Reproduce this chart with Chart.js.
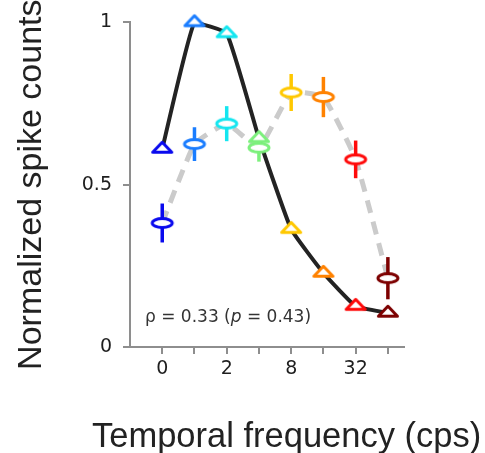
<!DOCTYPE html>
<html>
<head>
<meta charset="utf-8">
<script src="https://cdn.jsdelivr.net/npm/chart.js@4"></script>
<style>
  html, body { margin: 0; padding: 0; background: #fff; }
  #wrap { width: 485px; height: 453px; position: relative; }
</style>
</head>
<body>
<div id="wrap"><canvas id="chart"></canvas></div>
<script>
// Temporal frequency steps (cps), one category per position on the x axis
const frequencies = ['0', '1', '2', '4', '8', '16', '32', '64'];
const xTickLabels = ['0', '', '2', '', '8', '', '32', ''];
const yTicks = [0, 0.5, 1];

// Normalized responses: population tuning curve (triangles) and single unit (circles)
const triangleValues = [0.61, 1.0, 0.966, 0.643, 0.363, 0.228, 0.126, 0.105];
const circleValues   = [0.382, 0.625, 0.688, 0.614, 0.784, 0.770, 0.578, 0.212];
const circleErrors   = [0.060, 0.052, 0.054, 0.043, 0.057, 0.062, 0.058, 0.065];

// One colour per frequency step
const stepColors = ['#0a0aee', '#1a7dff', '#14e6f0', '#7cf07c', '#ffc800', '#ff8200', '#ff0a0a', '#7d0000'];

const xTitle = 'Temporal frequency (cps)';
const yTitle = 'Normalized spike counts';
const corrParts = [
  { text: '\u03c1 = 0.33 (', italic: false },
  { text: 'p', italic: true },
  { text: ' = 0.43)', italic: false }
];

// Marker bitmaps: flat outlined triangle and ellipse with white fill
function triangleMarker(color) {
  const c = document.createElement('canvas');
  c.width = 32; c.height = 24;
  const g = c.getContext('2d');
  const cx = 16, cy = 12, h = 10, w = 19;
  g.beginPath();
  g.moveTo(cx, cy - 2 * h / 3);
  g.lineTo(cx + w / 2, cy + h / 3);
  g.lineTo(cx - w / 2, cy + h / 3);
  g.closePath();
  g.fillStyle = '#ffffff';
  g.fill();
  g.lineWidth = 3;
  g.lineJoin = 'round';
  g.strokeStyle = color;
  g.stroke();
  return c;
}
function ellipseMarker(color) {
  const c = document.createElement('canvas');
  c.width = 28; c.height = 18;
  const g = c.getContext('2d');
  g.beginPath();
  g.ellipse(14, 9, 10, 4.5, 0, 0, Math.PI * 2);
  g.fillStyle = '#ffffff';
  g.fill();
  g.lineWidth = 3;
  g.strokeStyle = color;
  g.stroke();
  return c;
}

const toPoints = vals => vals.map((v, i) => ({ x: i, y: v }));

// Vertical error bars under the circle markers
const errorBars = {
  id: 'errorBars',
  beforeDatasetDraw(chart, args) {
    const ds = chart.data.datasets[args.index];
    if (!ds.errors) return;
    const { ctx } = chart;
    const xs = chart.scales.x, ys = chart.scales.y;
    ctx.save();
    ctx.lineWidth = 3.5;
    ctx.lineCap = 'butt';
    ds.data.forEach((p, i) => {
      const px = xs.getPixelForValue(p.x);
      ctx.strokeStyle = stepColors[i];
      ctx.beginPath();
      ctx.moveTo(px, ys.getPixelForValue(p.y - ds.errors[i]));
      ctx.lineTo(px, ys.getPixelForValue(p.y + ds.errors[i]));
      ctx.stroke();
    });
    ctx.restore();
  }
};

// Correlation note and x axis title
const annotations = {
  id: 'annotations',
  afterDraw(chart) {
    const { ctx } = chart;
    ctx.save();
    ctx.fillStyle = '#333333';
    ctx.textBaseline = 'alphabetic';
    ctx.textAlign = 'left';
    let x = 145;
    corrParts.forEach(part => {
      ctx.font = (part.italic ? 'italic ' : '') + '17px "DejaVu Sans"';
      ctx.fillText(part.text, x, 322);
      x += ctx.measureText(part.text).width;
    });
    ctx.fillStyle = '#222222';
    ctx.font = '34.5px "Liberation Sans", Arial, sans-serif';
    ctx.fillText(xTitle, 92, 447);
    ctx.restore();
  }
};

const axisGray = '#8e8e8e';

new Chart(document.getElementById('chart'), {
  type: 'line',
  data: {
    datasets: [
      {
        label: 'triangle markers',
        data: toPoints(triangleValues),
        showLine: false,
        pointStyle: stepColors.map(triangleMarker),
        pointRadius: 10,
        clip: false,
        order: 1
      },
      {
        label: 'circle markers',
        data: toPoints(circleValues),
        errors: circleErrors,
        showLine: false,
        pointStyle: stepColors.map(ellipseMarker),
        pointRadius: 10,
        clip: false,
        order: 2
      },
      {
        label: 'population curve',
        data: toPoints(triangleValues),
        borderColor: '#232323',
        borderWidth: 4,
        tension: 0.12,
        pointRadius: 0,
        fill: false,
        clip: false,
        order: 3
      },
      {
        label: 'unit curve',
        data: toPoints(circleValues),
        borderColor: '#cbcbcb',
        borderWidth: 5,
        borderDash: [13, 9],
        tension: 0.12,
        pointRadius: 0,
        fill: false,
        clip: false,
        order: 4
      }
    ]
  },
  options: {
    responsive: true,
    maintainAspectRatio: false,
    animation: false,
    layout: { padding: { top: 22, right: 81, bottom: 0, left: 0 } },
    plugins: { legend: { display: false }, tooltip: { enabled: false } },
    scales: {
      x: {
        type: 'linear',
        min: -1,
        max: 7.5,
        afterBuildTicks: scale => { scale.ticks = frequencies.map((_, i) => ({ value: i })); },
        afterFit: scale => { scale.height = 106; },
        grid: { drawOnChartArea: false, drawTicks: true, tickLength: 7, color: axisGray, lineWidth: 2 },
        border: { display: true, color: axisGray, width: 2 },
        ticks: {
          autoSkip: false,
          maxRotation: 0,
          padding: 4,
          color: '#1e1e1e',
          font: { family: '"DejaVu Sans"', size: 19 },
          callback: (value, index) => xTickLabels[index]
        }
      },
      y: {
        min: 0,
        max: 1,
        afterBuildTicks: scale => { scale.ticks = yTicks.map(v => ({ value: v })); },
        afterFit: scale => { scale.width = 130; },
        grid: { drawOnChartArea: false, drawTicks: true, tickLength: 7, color: axisGray, lineWidth: 2 },
        border: { display: true, color: axisGray, width: 2 },
        ticks: {
          padding: 11,
          color: '#1e1e1e',
          font: { family: '"DejaVu Sans"', size: 19 },
          callback: value => String(value)
        },
        title: {
          display: true,
          text: yTitle,
          color: '#222222',
          font: { family: '"Liberation Sans", Arial, sans-serif', size: 34 },
          padding: { top: 11, bottom: 0 }
        }
      }
    }
  },
  plugins: [errorBars, annotations]
});
</script>
</body>
</html>
